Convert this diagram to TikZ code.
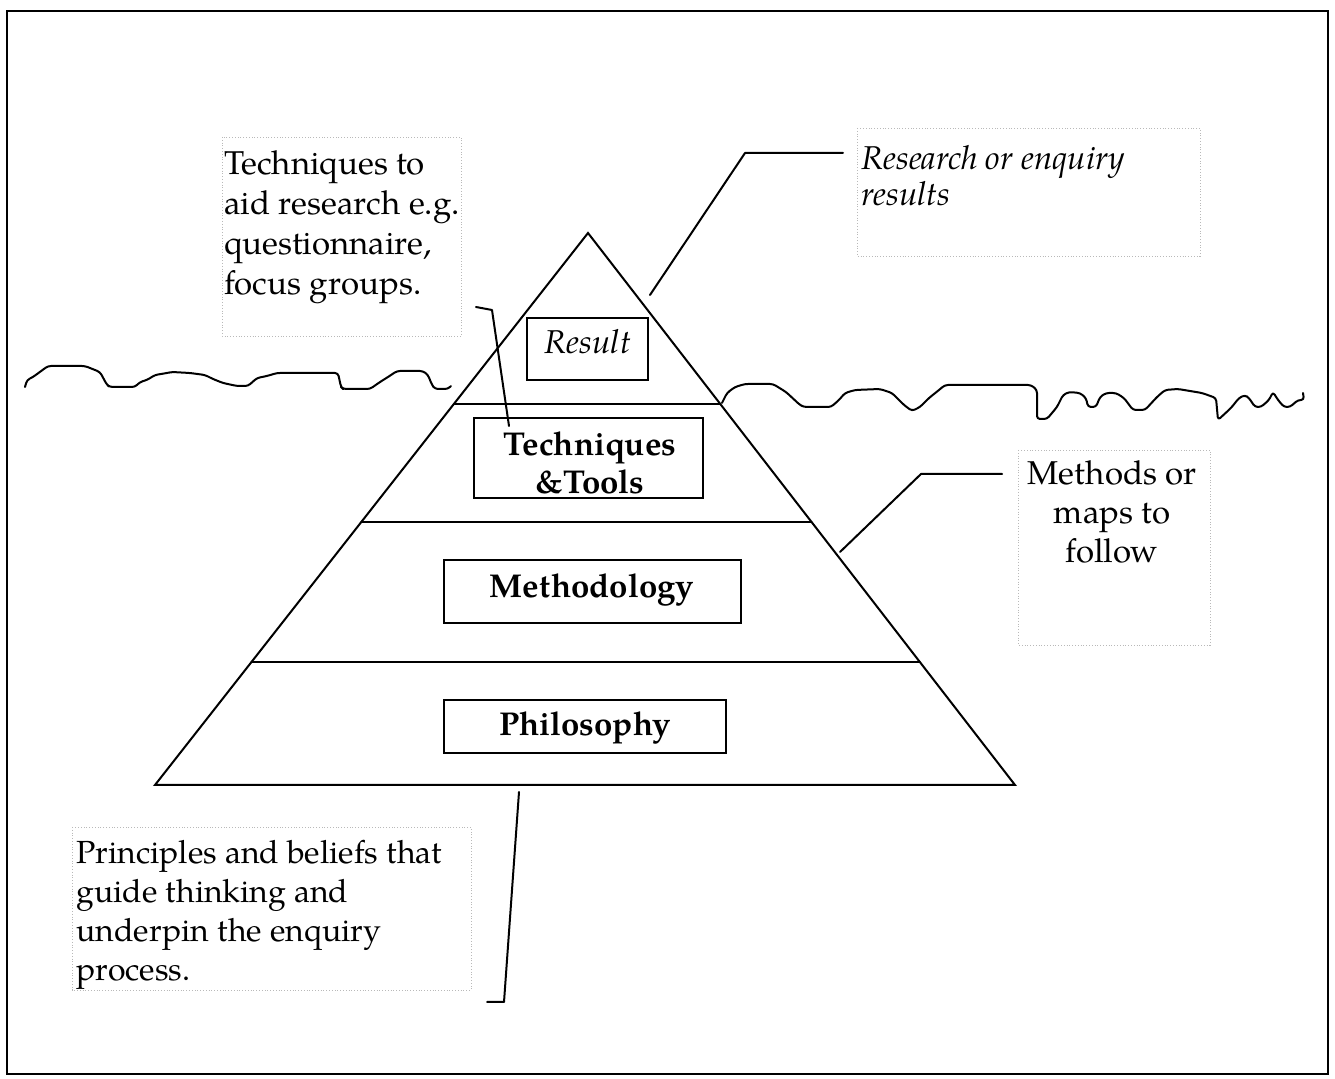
\documentclass[tikz,border=0pt]{standalone}
\usepackage{fontspec}
\setmainfont{texgyrepagella}[Extension=.otf, UprightFont=*-regular, BoldFont=*-bold, ItalicFont=*-italic, BoldItalicFont=*-bolditalic]
\begin{document}
\begin{tikzpicture}[x=0.5pt,y=-0.5pt,
  ink/.style={line width=1pt, line join=round, line cap=round},
  tierbox/.style={draw, line width=1pt, inner sep=0pt},
  tiertext/.style={inner sep=0pt, font=\fontsize{16.5}{19}\selectfont\bfseries, align=center},
  note/.style={inner sep=0pt, font=\fontsize{16.5}{19.5}\selectfont},
  notebox/.style={draw=gray!55, densely dotted, line width=0.4pt},
  lead/.style={ink}]
% page and frame
\useasboundingbox (0,0) rectangle (1335,1079);
\draw[line width=1.4pt] (7,11) rectangle (1328,1074);

% pyramid outline and tiers
\coordinate (apex) at (588,233);
\coordinate (bl) at (155,785);
\coordinate (br) at (1015,785);
\draw[ink, line join=miter] (bl) -- (apex) -- (br) -- cycle;
\draw[ink] (453.9,404) -- (720.3,404);
\draw[ink] (361.3,522) -- (811.5,522);
\draw[ink] (251.5,662) -- (919.8,662);

% water line
\draw[ink, rounded corners=1.5pt]
  (25,387) -- (27,380) -- (33,377) -- (48,366) -- (85,366) -- (90,368) -- (100,372)
  -- (107,385) -- (110,387) -- (135,387) -- (140,382) -- (147,380) -- (155,375)
  -- (167,373) -- (172,372) -- (190,373) -- (205,375) -- (213,379) -- (223,383)
  -- (237,386) -- (248,386) -- (257,378) -- (267,376) -- (277,373) -- (338,373)
  -- (341,387) -- (343,389) -- (370,389) -- (380,382) -- (388,377) -- (397,371)
  -- (423,371) -- (428,375) -- (432,385) -- (435,389) -- (448,389) -- (451,386);
\draw[ink, rounded corners=1.5pt]
  (722,403) -- (727,393) -- (735,387) -- (745,384) -- (773,384) -- (786,392)
  -- (800,405) -- (804,407) -- (831,407) -- (839,400) -- (845,393) -- (855,390)
  -- (880,389) -- (892,393) -- (904,405) -- (912,411) -- (920,407) -- (929,398)
  -- (939,390) -- (945,385) -- (1031,385) -- (1037,390) -- (1037,419) -- (1047,419)
  -- (1057,407) -- (1063,395) -- (1069,392) -- (1080,393) -- (1086,398) -- (1088,407)
  -- (1096,407) -- (1100,397) -- (1106,393) -- (1116,393) -- (1124,398) -- (1133,410)
  -- (1145,410) -- (1157,397) -- (1165,390) -- (1178,389) -- (1202,393) -- (1216,398)
  -- (1218,420) -- (1231,408) -- (1239,398) -- (1245,395) -- (1249,398) -- (1255,407)
  -- (1261,407) -- (1269,400) -- (1273,392) -- (1278,400) -- (1284,407) -- (1290,407)
  -- (1298,400) -- (1304,400) -- (1303,393);

% tier boxes
\node[tierbox, minimum width=60.5pt, minimum height=31pt] (resbox) at (587.5,349) {};
\node[inner sep=0pt, font=\fontsize{16.5}{19}\selectfont\itshape, anchor=base] (restext) at (588,354) {Result};
\node[tierbox, minimum width=114.5pt, minimum height=40pt] (techbox) at (588.5,458) {};
\node[tiertext, anchor=north] (techtext) at (590,431) {Techniques\\\&Tools};
\node[tierbox, minimum width=148.5pt, minimum height=31.5pt] (methbox) at (592.5,591.5) {};
\node[tiertext, anchor=base] (methtext) at (592,598) {Methodology};
\node[tierbox, minimum width=141pt, minimum height=26.5pt] (philbox) at (585,726.5) {};
\node[tiertext, anchor=base] (philtext) at (585,736) {Philosophy};

% callout text boxes
\draw[notebox] (222,137) rectangle (461,336);
\node[note, anchor=north west, align=left, font=\fontsize{16.5}{20}\selectfont] (technote) at (224,150)
  {Techniques to\\aid research e.g.\\questionnaire,\\focus groups.};
\draw[notebox] (857,128) rectangle (1200,256);
\node[note, anchor=north west, align=left, font=\fontsize{16.5}{18}\selectfont\itshape] (resnote) at (861,145)
  {Research or enquiry\\results};
\draw[notebox] (1018,450) rectangle (1210,645);
\node[note, anchor=north, align=center] (methnote) at (1112,460)
  {Methods or\\maps to\\follow};
\draw[notebox] (72,827) rectangle (471,990);
\node[note, anchor=north west, align=left, font=\fontsize{16}{19.5}\selectfont] (philnote) at (76,840)
  {Principles and beliefs that\\guide thinking and\\underpin the enquiry\\process.};

% leader lines
\coordinate (t0) at (476,307);
\coordinate (t1) at (492,310);
\coordinate (t2) at (509,426);
\draw[lead] (t0) -- (t1) -- (t2);
\coordinate (r0) at (650,295);
\coordinate (r1) at (745,153);
\coordinate (r2) at (843,153);
\draw[lead] (r0) -- (r1) -- (r2);
\coordinate (m0) at (840,552);
\coordinate (m1) at (921,474);
\coordinate (m2) at (1002,474);
\draw[lead] (m0) -- (m1) -- (m2);
\coordinate (p0) at (519,792);
\coordinate (p1) at (504,1002);
\coordinate (p2) at (487,1002);
\draw[lead] (p0) -- (p1) -- (p2);
\end{tikzpicture}
\end{document}
